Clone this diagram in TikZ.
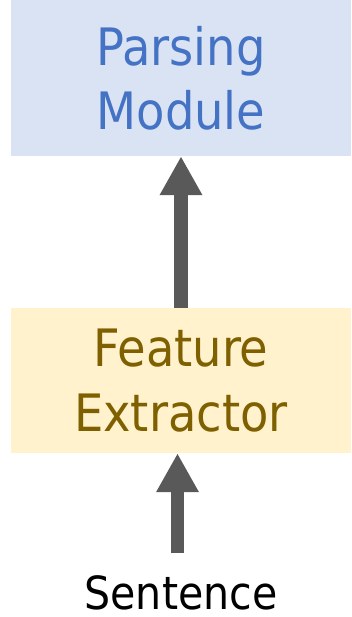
\documentclass[tikz,border=0pt]{standalone}
\usepackage{xcolor}
\usepackage{fontspec}
\setmainfont{DejaVu Sans Condensed}
\usepackage{tikz}
\usetikzlibrary{arrows.meta,positioning}

\definecolor{parsefill}{HTML}{DAE3F3}
\definecolor{parsetext}{HTML}{4472C4}
\definecolor{featfill}{HTML}{FFF2CC}
\definecolor{feattext}{HTML}{7F6000}
\definecolor{arrowgray}{HTML}{595959}

\begin{document}
\begin{tikzpicture}[
    x=0.3mm,
    y=-0.3mm,
    module/.style={
        rectangle,
        draw=none,
        minimum width=102mm,
        align=center,
        inner sep=0pt,
        font=\fontsize{44}{55}\selectfont
    },
    flow/.style={
        draw=arrowgray,
        line width=4.1mm,
        -{Triangle[width=12mm,length=11.7mm]},
        shorten >=0pt
    }
]

% Frame of the page
\useasboundingbox (0,0) rectangle (351,617);

% Parser on top
\node[module, fill=parsefill, text=parsetext, minimum height=46.8mm] (parser) at (181,78) {Parsing\\Module};

% Features in the middle
\node[module, fill=featfill, text=feattext, minimum height=43.5mm] (extractor) at (181,380.5) {Feature\\Extractor};

% Input sentence
\node[font=\fontsize{39}{44}\selectfont, inner sep=0pt, anchor=base] (sentence) at (181,609) {Sentence};
\coordinate (input) at (177.5,553);

% Arrows going up
\draw[flow] (extractor.north) -- (parser.south);
\draw[flow] (input) -- (input |- extractor.south);

\end{tikzpicture}
\end{document}
